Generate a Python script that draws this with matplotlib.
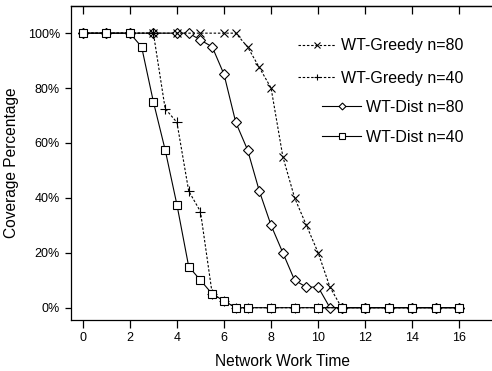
import matplotlib
matplotlib.use("Agg")
import matplotlib.pyplot as plt
from matplotlib.ticker import FuncFormatter
from matplotlib.transforms import IdentityTransform
from matplotlib.legend import Legend

plt.rcParams['font.family'] = ['Liberation Sans', 'DejaVu Sans']

# ---- data ----
greedy80_x = [0, 1, 2, 3, 4, 5, 6, 6.5, 7, 7.5, 8, 8.5, 9, 9.5, 10, 10.5, 11, 12, 13, 14, 15, 16]
greedy80_y = [100, 100, 100, 100, 100, 100, 100, 100, 95, 87.5, 80, 55, 40, 30, 20, 7.5, 0, 0, 0, 0, 0, 0]

greedy40_x = [0, 1, 2, 3, 3.5, 4, 4.5, 5, 5.5, 6, 6.5, 7, 8, 9, 10, 11, 12, 13, 14, 15, 16]
greedy40_y = [100, 100, 100, 100, 72.5, 67.5, 42.5, 35, 5, 2.5, 0, 0, 0, 0, 0, 0, 0, 0, 0, 0, 0]

dist80_x = [0, 1, 2, 3, 4, 4.5, 5, 5.5, 6, 6.5, 7, 7.5, 8, 8.5, 9, 9.5, 10, 10.5, 11, 12, 13, 14, 15, 16]
dist80_y = [100, 100, 100, 100, 100, 100, 97.5, 95, 85, 67.5, 57.5, 42.5, 30, 20, 10, 7.5, 7.5, 0, 0, 0, 0, 0, 0, 0]

dist40_x = [0, 1, 2, 2.5, 3, 3.5, 4, 4.5, 5, 5.5, 6, 6.5, 7, 8, 9, 10, 11, 12, 13, 14, 15, 16]
dist40_y = [100, 100, 100, 95, 75, 57.5, 37.5, 15, 10, 5, 2.5, 0, 0, 0, 0, 0, 0, 0, 0, 0, 0, 0]

labels = ["WT-Greedy n=80", "WT-Greedy n=40", "WT-Dist n=80", "WT-Dist n=40"]
x_ticks = list(range(0, 17, 2))
y_ticks = [0, 20, 40, 60, 80, 100]

W, H = 492, 371
fig = plt.figure(figsize=(W / 100, H / 100), dpi=100)
left_px, right_px, top_px, bot_px = 71, 494.7, 5.7, 319.5
ax = fig.add_axes([left_px / W, 1 - bot_px / H, (right_px - left_px) / W, (bot_px - top_px) / H])

dash = (0, (2.2, 1.6))
lw = 0.8
ms = 5.5
l_d80, = ax.plot(dist80_x, dist80_y, color='black', lw=lw, ls='-', marker='D', ms=ms * 0.85,
                 mfc='white', mec='black', mew=0.8, zorder=2)
l_g80, = ax.plot(greedy80_x, greedy80_y, color='black', lw=lw, ls=dash, marker='x', ms=ms,
                 mec='black', mew=0.8, zorder=3)
l_g40, = ax.plot(greedy40_x, greedy40_y, color='black', lw=lw, ls=dash, marker='+', ms=ms + 1,
                 mec='black', mew=0.8, zorder=4)
l_d40, = ax.plot(dist40_x, dist40_y, color='black', lw=lw, ls='-', marker='s', ms=ms * 0.95,
                 mfc='white', mec='black', mew=0.8, zorder=5)

ax.set_xlim(-0.5, 17.5)
ax.set_ylim(-4.3, 110)
ax.set_xticks(x_ticks)
ax.set_yticks(y_ticks)
ax.yaxis.set_major_formatter(FuncFormatter(lambda v, p: f"{int(v)}%"))
ax.spines['right'].set_visible(False)
for s in ['left', 'bottom', 'top']:
    ax.spines[s].set_linewidth(0.9)
ax.tick_params(axis='x', direction='out', length=5.5, width=0.9, labelsize=9, pad=3.5, top=False)
ax.tick_params(axis='y', direction='out', length=4.5, width=0.9, labelsize=9, pad=3.5, right=False)

# top ticks pointing inward, no labels
sec = ax.secondary_xaxis('top')
sec.set_xticks(x_ticks)
sec.tick_params(direction='in', length=5.5, width=0.9, labeltop=False)
sec.spines['top'].set_linewidth(0.9)

ax.set_xlabel("Network Work Time", fontsize=11.2, labelpad=7)
ax.set_ylabel("Coverage Percentage", fontsize=11.2, labelpad=6)

# legend entries, right-aligned, one per row
rows_y = [45.7, 78.3, 107.3, 137.3]
handles = [l_g80, l_g40, l_d80, l_d40]
for h, lab, yp in zip(handles, labels, rows_y):
    leg = Legend(ax, [h], [lab], loc='center right', frameon=False, fontsize=11.5,
                 bbox_to_anchor=(463, H - yp), bbox_transform=IdentityTransform(),
                 borderpad=0, borderaxespad=0, handlelength=2.4, handletextpad=0.3,
                 numpoints=1, markerscale=0.75)
    ax.add_artist(leg)

fig.savefig("out.png", dpi=100)
